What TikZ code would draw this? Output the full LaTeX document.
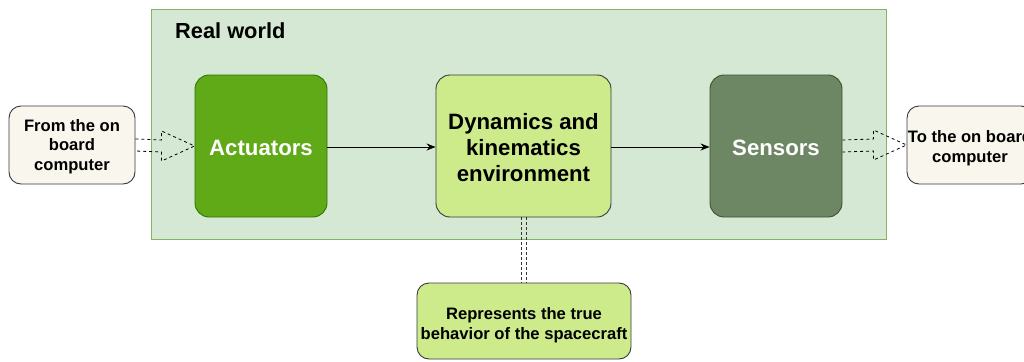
\documentclass[tikz,border=0pt]{standalone}
\usepackage{fontspec}
\setmainfont{Liberation Sans}
\usetikzlibrary{arrows.meta,calc}

\definecolor{worldfill}{HTML}{D5E8D4}
\definecolor{worldline}{HTML}{82B366}
\definecolor{ioFill}{HTML}{F9F7ED}
\definecolor{ioLine}{HTML}{36393D}
\definecolor{actFill}{HTML}{60A917}
\definecolor{actLine}{HTML}{2D7600}
\definecolor{dynFill}{HTML}{CDEB8B}
\definecolor{senFill}{HTML}{6D8764}
\definecolor{senLine}{HTML}{3A5431}

\tikzset{
  iobox/.style={draw=ioLine, fill=ioFill, line width=0.9pt, rounded corners=12pt,
    minimum width=126pt, minimum height=78pt},
  iotext/.style={align=center, font=\fontsize{16.6}{19.7}\selectfont\bfseries, inner sep=0pt},
  bigbox/.style={line width=0.9pt, rounded corners=14pt,
    minimum width=132pt, minimum height=142pt},
  bigtext/.style={align=center, font=\fontsize{22.2}{26}\selectfont\bfseries, inner sep=0pt},
  notebox/.style={draw=ioLine, fill=dynFill, line width=0.9pt, rounded corners=12pt,
    minimum width=214pt, minimum height=76pt},
  notetext/.style={align=center, font=\fontsize{16.6}{20}\selectfont\bfseries, inner sep=0pt},
  flow/.style={line width=0.9pt, -{Stealth[length=9pt,width=7pt]}},
  hollowarrow/.style={draw=black, line width=0.8pt, dash pattern=on 3pt off 3pt},
  linkline/.style={draw=black!80, line width=0.8pt, dash pattern=on 3pt off 2pt},
}

\begin{document}
\begin{tikzpicture}[x=1pt,y=-1pt]
\useasboundingbox (0,0) rectangle (1024,361);
\clip (0,0) rectangle (1024,361);
\fill[white] (0,0) rectangle (1024,361);

% real-world frame
\draw[worldline, fill=worldfill, line width=0.9pt] (151,9) rectangle (886,239);
\node[anchor=west, font=\fontsize{21.8}{25}\selectfont\bfseries, inner sep=0pt] (title) at (175,31) {Real world};

% blocks
\node[iobox] (from) at (72,145) {};
\node[iotext] (fromText) at (72,146.5) {From the on\\board\\computer};
\node[bigbox, draw=actLine, fill=actFill] (act) at (261,146) {};
\node[bigtext, text=white] (actText) at (261,147.5) {Actuators};
\node[bigbox, draw=ioLine, fill=dynFill, minimum width=175pt] (dyn) at (523.5,146) {};
\node[bigtext] (dynText) at (523.5,147.5) {Dynamics and\\kinematics\\environment};
\node[bigbox, draw=senLine, fill=senFill] (sen) at (776,146) {};
\node[bigtext, text=white] (senText) at (776,147.5) {Sensors};
\node[iobox] (to) at (970,145) {};
\node[iotext] (toText) at (970,148) {To the on board\\computer};
\node[notebox] (note) at (524,321) {};
\node[notetext] (noteText) at (524,325.5) {Represents the true\\behavior of the spacecraft};

% signal flow
\draw[flow] (act.east |- 0,147) -- (dyn.west |- 0,147);
\draw[flow] (dyn.east |- 0,147) -- (sen.west |- 0,147);

% hollow dashed shape arrows (input and output)
\draw[hollowarrow]
  ($(from.east)+(0,-6)$) -- ($(act.west)+(-33,-6)$) -- ($(act.west)+(-33,-15)$)
  -- ($(act.west)+(0,0)$) -- ($(act.west)+(-33,15)$) -- ($(act.west)+(-33,6)$)
  -- ($(from.east)+(0,6)$);
\draw[hollowarrow]
  ($(sen.east)+(0,-6)$) -- ($(to.west)+(-33,-6)$) -- ($(to.west)+(-33,-15)$)
  -- ($(to.west)+(0,0)$) -- ($(to.west)+(-33,15)$) -- ($(to.west)+(-33,6)$)
  -- ($(sen.east)+(0,6)$);

% double dotted link to the note
\draw[linkline] ($(dyn.south)+(-2.5,0)$) -- ($(note.north)+(-3,0)$);
\draw[linkline] ($(dyn.south)+(2.5,0)$) -- ($(note.north)+(2,0)$);
\end{tikzpicture}
\end{document}
